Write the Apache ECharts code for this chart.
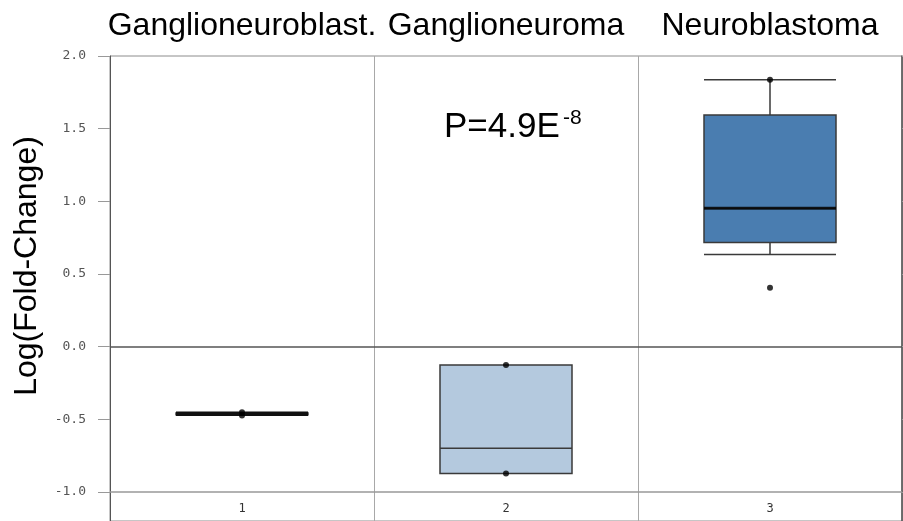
<!DOCTYPE html>
<html>
<head>
<meta charset="utf-8">
<script src="https://cdn.jsdelivr.net/npm/echarts@6/dist/echarts.min.js"></script>
<style>
  html, body { margin: 0; padding: 0; background: #fff; }
  #chart { width: 903px; height: 521px; }
</style>
</head>
<body>
<div id="chart"></div>
<script>
// categories (bottom numbers + top group names)
const categories = ['1', '2', '3']
const groupNames = ['Ganglioneuroblast.', 'Ganglioneuroma', 'Neuroblastoma']
// box stats: [min, q1, median, q3, max]
const boxStats = [
  [-0.474, -0.47, -0.462, -0.455, -0.451],
  [-0.873, -0.873, -0.70, -0.126, -0.126],
  [0.634, 0.717, 0.952, 1.594, 1.836]
]
const boxFills = ['#6a7b8c', '#b4c9de', '#4a7db0']
// dots drawn on top: [categoryIndex, value]
const dots = [
  [0, -0.451], [0, -0.474],
  [1, -0.126], [1, -0.873],
  [2, 1.836], [2, 0.406]
]
const yTicks = [-1.0, -0.5, 0.0, 0.5, 1.0, 1.5, 2.0]
const pText = 'P=4.9E'
const pExp = '-8'

const chart = echarts.init(document.getElementById('chart'))
const option = {
  animation: false,
  grid: {
    left: 110, right: 1, top: 56, bottom: 0,
    show: true, borderColor: '#8c8c8c', borderWidth: 1
  },
  xAxis: [
    {
      type: 'category',
      data: categories,
      position: 'bottom',
      axisLine: { show: false },
      axisTick: { show: false },
      axisLabel: {
        inside: true, margin: 6,
        fontFamily: 'DejaVu Sans Mono', fontSize: 12, color: '#333'
      },
      splitLine: { show: true, lineStyle: { color: '#a8a8a8', width: 1 } }
    },
    {
      type: 'category',
      data: groupNames,
      position: 'top',
      axisLine: { show: false },
      axisTick: { show: false },
      axisLabel: {
        interval: 0, hideOverlap: false,
        margin: 14,
        fontFamily: 'Liberation Sans', fontSize: 32, color: '#000'
      }
    }
  ],
  yAxis: [
    {
      type: 'value',
      min: -1.2,
      max: 2.0,
      axisLine: { show: true, lineStyle: { color: '#555', width: 1 } },
      axisTick: {
        show: true, length: 12, customValues: yTicks,
        lineStyle: { color: '#999' }
      },
      axisLabel: {
        customValues: yTicks, margin: 24,
        formatter: v => v.toFixed(1),
        fontFamily: 'DejaVu Sans Mono', fontSize: 13, color: '#555'
      },
      splitLine: { show: false }
    },
    {
      type: 'value',
      position: 'right',
      min: -1.2,
      max: 2.0,
      axisLine: { show: true, lineStyle: { color: '#555', width: 1.5 } },
      axisTick: {
        show: true, length: 4, customValues: yTicks,
        lineStyle: { color: '#999' }
      },
      axisLabel: { show: false },
      splitLine: { show: false }
    }
  ],
  graphic: [
    {
      type: 'text',
      x: 27, y: 266,
      rotation: Math.PI / 2,
      style: {
        text: 'Log(Fold-Change)',
        fontFamily: 'Liberation Sans', fontSize: 32, fill: '#000',
        align: 'center', verticalAlign: 'middle'
      }
    },
    {
      type: 'text',
      x: 444, y: 127,
      style: {
        text: pText,
        fontFamily: 'Liberation Sans', fontSize: 35, fill: '#000',
        align: 'left', verticalAlign: 'middle'
      }
    },
    {
      type: 'text',
      x: 563, y: 118,
      style: {
        text: pExp,
        fontFamily: 'Liberation Sans', fontSize: 21, fill: '#000',
        align: 'left', verticalAlign: 'middle'
      }
    }
  ],
  series: [
    {
      name: 'box',
      type: 'boxplot',
      boxWidth: [132, 132],
      data: boxStats.map((v, i) => ({
        value: v,
        itemStyle: { color: boxFills[i], borderColor: i === 0 ? '#111' : '#3a3a3a', borderWidth: i === 0 ? 1.2 : 1.5 }
      })),
      markLine: {
        silent: true,
        symbol: ['none', 'none'],
        label: { show: false },
        data: [
          { yAxis: 0, lineStyle: { color: '#555', width: 1.5, type: 'solid' } },
          { yAxis: -1, lineStyle: { color: '#999', width: 1.5, type: 'solid' } }
        ]
      }
    },
    {
      name: 'median',
      type: 'scatter',
      symbol: 'rect',
      symbolSize: [132, 3],
      itemStyle: { color: '#000' },
      data: [[2, boxStats[2][2]]],
      z: 3
    },
    {
      name: 'dots',
      type: 'scatter',
      symbolSize: 6,
      itemStyle: { color: '#000' },
      data: dots,
      z: 4
    }
  ]
}
chart.setOption(option)
</script>
</body>
</html>
